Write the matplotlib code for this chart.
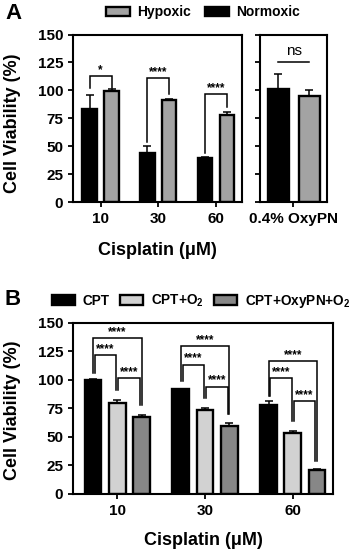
import matplotlib
matplotlib.use('Agg')
import matplotlib.pyplot as plt
from matplotlib.patches import Patch
import numpy as np

plt.rcParams['font.family'] = ['Liberation Sans', 'DejaVu Sans']
plt.rcParams['font.weight'] = 'bold'
plt.rcParams['mathtext.fontset'] = 'custom'
plt.rcParams['mathtext.rm'] = 'Liberation Sans:bold'
plt.rcParams['mathtext.default'] = 'rm'

# ---- data panel A ----
conc = ['10', '30', '60']
normoxic = [83.5, 43.8, 39.7]
normoxic_err = [12.5, 6.0, 0.9]
hypoxic = [99.5, 91.8, 77.8]
hypoxic_err = [1.6, 0.4, 3.2]
oxypn_label = '0.4% OxyPN'
oxypn_normoxic = 101.2
oxypn_normoxic_err = 13.6
oxypn_hypoxic = 94.6
oxypn_hypoxic_err = 5.6

# significance brackets panel A
sig_a = ['*', '****', '****']
sig_a_top = [112.8, 110.7, 96.4]
sig_a_leg_norm = [102.4, 54.0, 44.0]
sig_a_leg_hyp = [102.4, 96.4, 85.3]

# ---- data panel B ----
cpt = [99.6, 92.1, 77.9]
cpt_err = [1.7, 0.3, 3.6]
cpt_o2 = [80.0, 74.0, 53.4]
cpt_o2_err = [2.6, 1.6, 1.5]
cpt_oxy = [67.6, 59.5, 21.2]
cpt_oxy_err = [1.8, 2.8, 0.5]

# significance brackets panel B (outer, left, right)
sig_b_outer = [136.8, 129.5, 116.4]
sig_b_left = [121.6, 113.5, 101.5]
sig_b_right = [101.5, 94.0, 81.3]
leg_cpt = [106.0, 98.8, 85.7]
leg_o2 = [91.5, 84.2, 63.7]
leg_oxy = [78.4, 70.5, 28.6]

c_hyp = '#a3a3a3'
c_o2 = '#d2d2d2'
c_oxy = '#878787'
lw = 1.7


def style_axes(ax):
    for s in ax.spines.values():
        s.set_linewidth(1.5)
    ax.tick_params(width=1.3, length=3.5, labelsize=11, pad=4)
    ax.set_ylim(0, 150)
    ax.set_yticks(np.arange(0, 151, 25))


def bracket(ax, x1, x2, y, y1, y2, txt, fs=8.5):
    ax.plot([x1, x1, x2, x2], [y1, y, y, y2], color='black', lw=1.1,
            solid_joinstyle='miter', clip_on=False)
    ax.text((x1 + x2) / 2, y + 0.3, txt, ha='center', va='bottom',
            fontsize=fs, fontweight='bold')


def bars(ax, x, vals, errs, color, width):
    ax.bar(x, vals, width, color=color, edgecolor='black', linewidth=lw, zorder=2)
    ax.errorbar(x, vals, yerr=[np.zeros(len(vals)), errs], fmt='none',
                ecolor='black', elinewidth=1.1, capsize=3, capthick=1.1, zorder=1)


fig = plt.figure(figsize=(3.53, 5.59), dpi=100)

# ---------- panel A ----------
axA = fig.add_axes([0.2082, 0.6386, 0.4773, 0.2996])
style_axes(axA)
x = np.arange(len(conc))
off = 0.19
bars(axA, x - off, normoxic, normoxic_err, 'black', 0.25)
bars(axA, x + off, hypoxic, hypoxic_err, c_hyp, 0.25)
axA.set_xlim(-0.47, 2.45)
axA.set_xticks(x)
axA.set_xticklabels(conc)
for i in range(len(conc)):
    bracket(axA, x[i] - off, x[i] + off, sig_a_top[i], sig_a_leg_norm[i],
            sig_a_leg_hyp[i], sig_a[i])
axA.set_ylabel('Cell Viability (%)', fontsize=13, fontweight='bold', va='center')
axA.yaxis.set_label_coords(-0.362, 0.47)
axA.set_xlabel('Cisplatin (μM)', fontsize=13, fontweight='bold')
axA.xaxis.set_label_coords(0.5, -0.29)
axA.xaxis.label.set_va('center')

axA2 = fig.add_axes([0.7365, 0.6386, 0.1898, 0.2996])
style_axes(axA2)
bars(axA2, [-0.225], [oxypn_normoxic], [oxypn_normoxic_err], 'black', 0.31)
bars(axA2, [0.235], [oxypn_hypoxic], [oxypn_hypoxic_err], c_hyp, 0.31)
axA2.set_xlim(-0.5, 0.5)
axA2.set_xticks([0])
axA2.set_xticklabels([oxypn_label])
axA2.set_yticklabels([])
axA2.plot([-0.225, 0.235], [125, 125], color='black', lw=1.1)
axA2.text(0.005, 129, 'ns', ha='center', va='bottom', fontsize=11,
          fontweight='normal')

fig.legend(handles=[Patch(facecolor=c_hyp, edgecolor='black', linewidth=lw),
                    Patch(facecolor='black', edgecolor='black', linewidth=lw)],
           labels=['Hypoxic', 'Normoxic'], ncol=2, frameon=False,
           loc='center', bbox_to_anchor=(0.575, 0.978), fontsize=10,
           handlelength=1.7, handleheight=0.7, handletextpad=0.55,
           columnspacing=1.0)
fig.text(0.037, 0.976, 'A', fontsize=16, fontweight='bold', ha='center', va='center')

# ---------- panel B ----------
axB = fig.add_axes([0.2082, 0.1163, 0.7351, 0.3059])
style_axes(axB)
xb = np.arange(len(conc))
d = 0.277
bars(axB, xb - d, cpt, cpt_err, 'black', 0.19)
bars(axB, xb, cpt_o2, cpt_o2_err, c_o2, 0.19)
bars(axB, xb + d, cpt_oxy, cpt_oxy_err, c_oxy, 0.19)
axB.set_xlim(-0.5, 2.458)
axB.set_xticks(xb)
axB.set_xticklabels(conc)
for i in range(len(conc)):
    bracket(axB, xb[i] - d, xb[i] + d, sig_b_outer[i], leg_cpt[i], leg_oxy[i], '****')
    bracket(axB, xb[i] - d + 0.02, xb[i] - 0.01, sig_b_left[i], leg_cpt[i], leg_o2[i], '****')
    bracket(axB, xb[i] + 0.01, xb[i] + d - 0.02, sig_b_right[i], leg_o2[i], leg_oxy[i], '****')
axB.set_ylabel('Cell Viability (%)', fontsize=13, fontweight='bold', va='center')
axB.yaxis.set_label_coords(-0.235, 0.49)
axB.set_xlabel('Cisplatin (μM)', fontsize=13, fontweight='bold')
axB.xaxis.set_label_coords(0.5, -0.27)
axB.xaxis.label.set_va('center')

fig.legend(handles=[Patch(facecolor='black', edgecolor='black', linewidth=lw),
                    Patch(facecolor=c_o2, edgecolor='black', linewidth=lw),
                    Patch(facecolor=c_oxy, edgecolor='black', linewidth=lw)],
           labels=['CPT', 'CPT+O$_2$', 'CPT+OxyPN+O$_2$'], ncol=3, frameon=False,
           loc='center', bbox_to_anchor=(0.57, 0.4615), fontsize=9.8,
           handlelength=1.7, handleheight=0.7, handletextpad=0.55,
           columnspacing=0.75)
fig.text(0.037, 0.4635, 'B', fontsize=16, fontweight='bold', ha='center', va='center')

fig.savefig('out.png', dpi=100)
